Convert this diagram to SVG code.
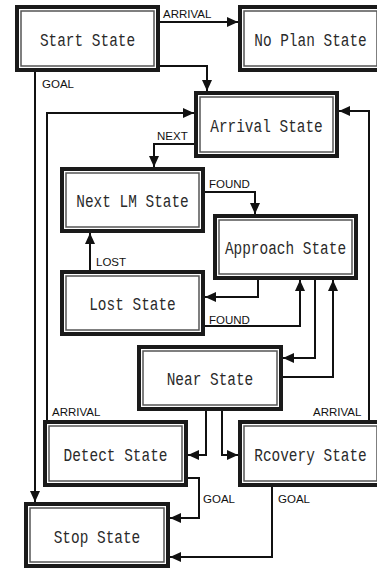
<svg xmlns="http://www.w3.org/2000/svg" width="377" height="569" viewBox="0 0 377 569">
<style>
.o{fill:#fff;stroke:#1a1a1a;stroke-width:4}
.i{fill:none;stroke:#555;stroke-width:1.5}
.t{font-family:"Liberation Mono","DejaVu Sans Mono",monospace;font-size:19px;fill:#2a2a2a;text-anchor:middle}
.c{fill:none;stroke:#111;stroke-width:2;marker-end:url(#a)}
.l{font-family:"Liberation Sans",Arial,sans-serif;font-size:11.5px;fill:#111}
</style>
<defs>
<marker id="a" markerUnits="userSpaceOnUse" markerWidth="11" markerHeight="10" refX="11" refY="5" orient="auto">
<path d="M0,0 L11,5 L0,10 z" fill="#111"/>
</marker>
</defs>
<rect width="377" height="569" fill="#fff"/>
<g id="connectors">
<path class="c" d="M160,22 H238"/>
<path class="c" d="M160,66 H207 V91"/>
<path class="c" d="M35,72 V502"/>
<path class="c" d="M47,420 V113 H194"/>
<path class="c" d="M369,420 V111 H339"/>
<path class="c" d="M194,144 H154 V167"/>
<path class="c" d="M205,192 H255 V214"/>
<path class="c" d="M90,270 V233"/>
<path class="c" d="M258,280 V297 H205"/>
<path class="c" d="M205,326 H300 V280"/>
<path class="c" d="M315,280 V358 H283"/>
<path class="c" d="M283,377 H333 V280"/>
<path class="c" d="M206,411 V455 H188"/>
<path class="c" d="M222,411 V455 H238"/>
<path class="c" d="M188,478 H199 V518 H170"/>
<path class="c" d="M272,487 V557 H170"/>
<text class="l" x="163" y="18">ARRIVAL</text>
<text class="l" x="42" y="88">GOAL</text>
<text class="l" x="157" y="140">NEXT</text>
<text class="l" x="209" y="188">FOUND</text>
<text class="l" x="96" y="266">LOST</text>
<text class="l" x="209" y="324">FOUND</text>
<text class="l" x="52" y="416">ARRIVAL</text>
<text class="l" x="313" y="416">ARRIVAL</text>
<text class="l" x="203" y="503">GOAL</text>
<text class="l" x="278" y="503">GOAL</text>
</g>
<g id="start"><rect class="o" x="17" y="7" width="141" height="63"/><rect class="i" x="21" y="11" width="133" height="55"/><text class="t" transform="translate(87.5,46) scale(0.76,1)">Start State</text></g>
<g id="noplan"><rect class="o" x="240" y="7" width="141" height="63"/><rect class="i" x="244" y="11" width="133" height="55"/><text class="t" transform="translate(310.5,46) scale(0.76,1)">No Plan State</text></g>
<g id="arrival"><rect class="o" x="196" y="93" width="141" height="63"/><rect class="i" x="200" y="97" width="133" height="55"/><text class="t" transform="translate(266.5,131.5) scale(0.76,1)">Arrival State</text></g>
<g id="nextlm"><rect class="o" x="62" y="169" width="141" height="62"/><rect class="i" x="66" y="173" width="133" height="54"/><text class="t" transform="translate(132.5,207) scale(0.76,1)">Next LM State</text></g>
<g id="approach"><rect class="o" x="215" y="216" width="141" height="62"/><rect class="i" x="219" y="220" width="133" height="54"/><text class="t" transform="translate(285.5,253.5) scale(0.76,1)">Approach State</text></g>
<g id="lost"><rect class="o" x="62" y="272" width="141" height="62"/><rect class="i" x="66" y="276" width="133" height="54"/><text class="t" transform="translate(132.5,310) scale(0.76,1)">Lost State</text></g>
<g id="near"><rect class="o" x="139" y="347" width="142" height="62"/><rect class="i" x="143" y="351" width="134" height="54"/><text class="t" transform="translate(210,385) scale(0.76,1)">Near State</text></g>
<g id="detect"><rect class="o" x="45" y="422" width="141" height="63"/><rect class="i" x="49" y="426" width="133" height="55"/><text class="t" transform="translate(115.5,460.5) scale(0.76,1)">Detect State</text></g>
<g id="rcovery"><rect class="o" x="240" y="422" width="141" height="63"/><rect class="i" x="244" y="426" width="133" height="55"/><text class="t" transform="translate(310.5,460.5) scale(0.76,1)">Rcovery State</text></g>
<g id="stop"><rect class="o" x="26" y="504" width="142" height="62"/><rect class="i" x="30" y="508" width="134" height="54"/><text class="t" transform="translate(97,543) scale(0.76,1)">Stop State</text></g>
</svg>
